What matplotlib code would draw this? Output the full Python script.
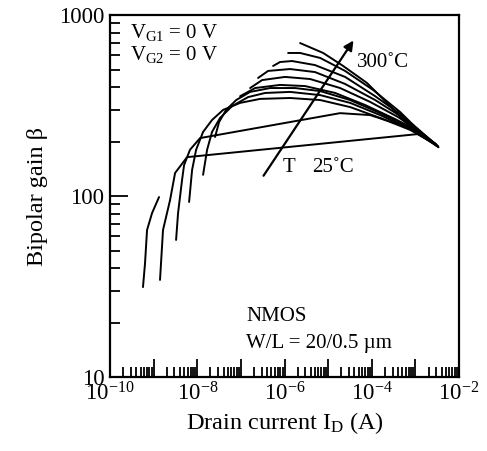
import math
import matplotlib
matplotlib.use("Agg")
import matplotlib.pyplot as plt
from matplotlib.ticker import LogLocator, FuncFormatter, NullFormatter

plt.rcParams['font.family'] = ['Liberation Serif', 'DejaVu Serif']
plt.rcParams['mathtext.fontset'] = 'custom'
plt.rcParams['mathtext.rm'] = 'Liberation Serif'
plt.rcParams['mathtext.it'] = 'Liberation Serif:italic'

# ---- data (drain current in A, bipolar gain) ----
curve_a_i = [5.7e-10, 6.35e-10, 7.06e-10, 9.2e-10, 1.33e-9]
curve_a_b = [31.4, 42.6, 64.9, 80.5, 98.7]

curve_b_i = [1.4e-9, 1.64e-9, 2.38e-9, 3.1e-9, 5.83e-9, 1.16e-3, 3.3e-3]
curve_b_b = [34.4, 64.9, 95, 134, 164, 220, 188]

curve_c_i = [3.27e-9, 3.63e-9, 4.48e-9, 4.98e-9, 6.8e-9, 1.16e-8, 1.88e-5, 9.2e-5, 4.48e-4, 1.29e-3, 3.0e-3]
curve_c_b = [57.2, 80.5, 122.5, 148, 180, 209, 287, 280, 247, 220, 192]

curve_d_i = [6.5e-9, 7.6e-9, 9.4e-9, 1.36e-8, 2.18e-8, 3.91e-8, 9.6e-8, 2.75e-7, 1.34e-6, 6.6e-6, 3.2e-5, 1.56e-4, 7.6e-4, 3.2e-3]
curve_d_b = [92.7, 139, 180, 226, 263, 299, 327, 344, 348, 339, 310, 270, 232, 190]

curve_e_i = [1.36e-8, 1.68e-8, 2.18e-8, 3.33e-8, 6.3e-8, 1.46e-7, 3.59e-7, 1.34e-6, 6.6e-6, 3.2e-5, 1.56e-4, 7.6e-4, 2.9e-3]
curve_e_b = [131, 180, 226, 270, 314, 352, 371, 376, 361, 327, 280, 234, 194]

curve_f_i = [2.56e-8, 3.16e-8, 4.58e-8, 7.8e-8, 1.63e-7, 4.68e-7, 1.75e-6, 6.6e-6, 3.2e-5, 1.56e-4, 7.6e-4, 3.3e-3]
curve_f_b = [212, 256, 299, 339, 376, 395, 395, 380, 339, 287, 238, 187]

curve_g_i = [9.6e-8, 2.12e-7, 7.9e-7, 2.97e-6, 1.45e-5, 7.1e-5, 3.44e-4, 1.16e-3, 3.0e-3]
curve_g_b = [356, 395, 411, 405, 371, 318, 266, 229, 191]

curve_h_i = [1.63e-7, 3.06e-7, 1.03e-6, 3.86e-6, 1.88e-5, 9.2e-5, 4.03e-4, 1.16e-3, 3.4e-3]
curve_h_b = [395, 437, 455, 443, 395, 331, 273, 229, 186]

curve_j_i = [2.48e-7, 4.2e-7, 1.34e-6, 5.0e-6, 2.45e-5, 1.2e-4, 4.48e-4, 1.29e-3, 2.8e-3]
curve_j_b = [449, 491, 503, 484, 416, 339, 277, 226, 195]

curve_k_i = [5.48e-7, 7.9e-7, 1.49e-6, 5.0e-6, 2.45e-5, 1.2e-4, 4.48e-4, 1.29e-3, 3.2e-3]
curve_k_b = [523, 550, 557, 529, 455, 356, 284, 229, 189]

curve_l_i = [1.21e-6, 2.28e-6, 6.6e-6, 2.45e-5, 1.08e-4, 4.48e-4, 1.29e-3, 3.0e-3]
curve_l_b = [617, 617, 579, 491, 385, 291, 226, 193]

curve_m_i = [2.28e-6, 7.7e-6, 2.21e-5, 7.8e-5, 2.64e-4, 7.6e-4, 1.68e-3, 3.3e-3]
curve_m_b = [700, 617, 523, 421, 314, 241, 209, 188]

curves = [
    (curve_a_i, curve_a_b), (curve_b_i, curve_b_b), (curve_c_i, curve_c_b),
    (curve_d_i, curve_d_b), (curve_e_i, curve_e_b), (curve_f_i, curve_f_b),
    (curve_g_i, curve_g_b), (curve_h_i, curve_h_b), (curve_j_i, curve_j_b),
    (curve_k_i, curve_k_b), (curve_l_i, curve_l_b), (curve_m_i, curve_m_b),
]

x_tick_values = [1e-10, 1e-8, 1e-6, 1e-4, 1e-2]
y_tick_values = [10, 100, 1000]

FS_TICK = 16.5
FS_LABEL = 17.5
FS_NOTE = 15

fig = plt.figure(figsize=(4.87, 4.51), dpi=100)
ax = fig.add_axes([0.2259, 0.164, 0.7166, 0.8027])

for xi, yi in curves:
    ax.plot(xi, yi, color='black', lw=1.4, solid_joinstyle='round', solid_capstyle='round')

ax.set_xscale('log')
ax.set_yscale('log')
ax.set_xlim(1e-10, 1e-2)
ax.set_ylim(10, 1000)

ax.xaxis.set_major_locator(LogLocator(base=10, numticks=20))
ax.xaxis.set_minor_locator(LogLocator(base=10, subs=range(2, 10), numticks=100))
ax.yaxis.set_major_locator(LogLocator(base=10, numticks=20))
ax.yaxis.set_minor_locator(LogLocator(base=10, subs=range(2, 10), numticks=100))

def xfmt(v, pos):
    for t in x_tick_values:
        if abs(v / t - 1) < 1e-6:
            e = int(round(math.log10(t)))
            return r'$\mathrm{10}^{\mathrm{%d}}$' % e
    return ''

def yfmt(v, pos):
    for t in y_tick_values:
        if abs(v / t - 1) < 1e-6:
            return '%d' % t
    return ''

ax.xaxis.set_major_formatter(FuncFormatter(xfmt))
ax.yaxis.set_major_formatter(FuncFormatter(yfmt))
ax.xaxis.set_minor_formatter(NullFormatter())
ax.yaxis.set_minor_formatter(NullFormatter())

ax.tick_params(which='both', direction='in', top=False, right=False, labelsize=FS_TICK, width=1.3)
ax.tick_params(which='major', length=13, pad=4)
ax.tick_params(which='minor', length=7)
for s in ax.spines.values():
    s.set_linewidth(1.6)

ax.set_xlabel(r'Drain current I$_\mathrm{D}$ (A)', fontsize=FS_LABEL, labelpad=3)
ax.set_ylabel(r'Bipolar gain β', fontsize=FS_LABEL, labelpad=8)

ax.text(0.057, 0.953, r'V$_\mathrm{G1}$ = 0 V', transform=ax.transAxes, fontsize=FS_NOTE, va='center', ha='left')
ax.text(0.057, 0.890, r'V$_\mathrm{G2}$ = 0 V', transform=ax.transAxes, fontsize=FS_NOTE, va='center', ha='left')
ax.text(0.708, 0.870, '300˚C', transform=ax.transAxes, fontsize=FS_NOTE, va='center', ha='left')
ax.text(0.496, 0.580, 'T', transform=ax.transAxes, fontsize=FS_NOTE, va='center', ha='left')
ax.text(0.579, 0.580, '25˚C', transform=ax.transAxes, fontsize=FS_NOTE, va='center', ha='left')
ax.text(0.39, 0.168, 'NMOS', transform=ax.transAxes, fontsize=FS_NOTE, va='center', ha='left')
ax.text(0.39, 0.094, 'W/L = 20/0.5 µm', transform=ax.transAxes, fontsize=FS_NOTE, va='center', ha='left')

ax.annotate('', xy=(0.702, 0.936), xytext=(0.4355, 0.5497),
            xycoords='axes fraction', textcoords='axes fraction',
            arrowprops=dict(arrowstyle='-|>', color='black', lw=1.6, mutation_scale=14))

fig.savefig('out.png', dpi=100)
